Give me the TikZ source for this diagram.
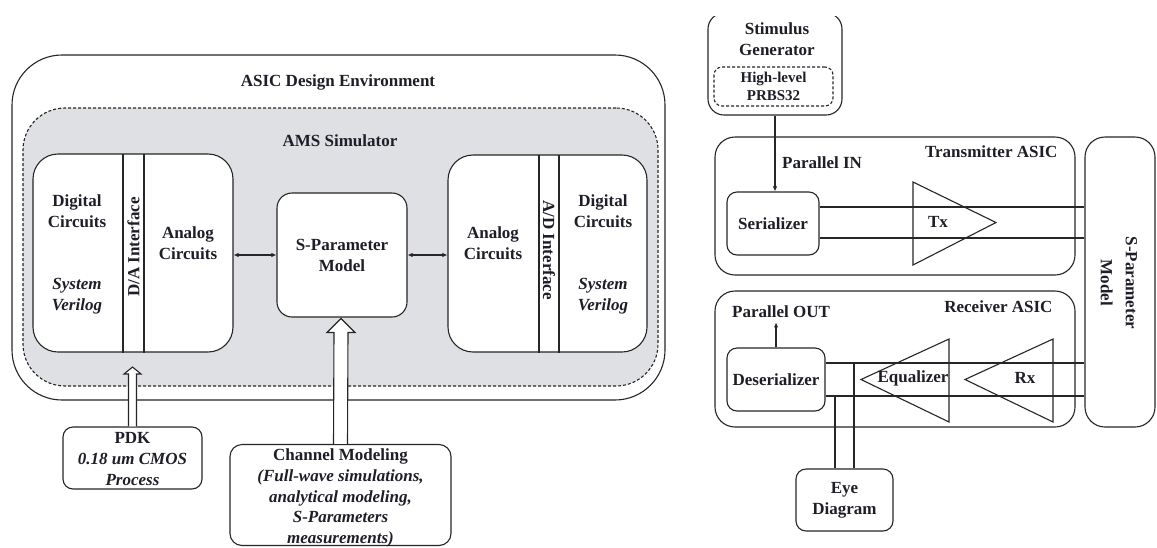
\documentclass[tikz,border=0pt]{standalone}
\usepackage{fontspec}
\setmainfont{Liberation Serif}
\usetikzlibrary{arrows.meta,calc}
\definecolor{ln}{HTML}{262626}
\definecolor{amsgray}{HTML}{DFE0E3}
\definecolor{txtc}{HTML}{1E1E28}
\newcommand\myfont{\fontsize{17}{21}\selectfont\bfseries}
\newcommand\smfont{\fontsize{15}{18}\selectfont\bfseries}
\begin{document}
\begin{tikzpicture}[x=1pt,y=-1pt,line width=1.1pt,
  bx/.style={draw=ln, fill=white, rounded corners=#1, inner sep=0pt, align=center, font=\myfont, text=txtc},
  bx/.default=10pt,
  lbl/.style={inner sep=0pt, align=center, font=\myfont, text=txtc},
  conn/.style={draw=ln, line width=1.1pt},
  tipa/.style={-{Latex[length=5pt,width=4.5pt]}},
  tipb/.style={{Latex[length=5pt,width=4.5pt]}-{Latex[length=5pt,width=4.5pt]}},
  hollow/.style={draw=ln, fill=white, line width=1.1pt, line join=miter}]
\useasboundingbox (0,0) rectangle (1157,547);
% ---------------- left panel ----------------
\node[bx=50pt, minimum width=653pt, minimum height=345pt] (asic) at (338.5,227.5) {};
\node[lbl] (asict) at (338,82) {ASIC Design Environment};
\node[bx=42pt, fill=amsgray, dash pattern=on 3pt off 2pt, minimum width=635pt, minimum height=278pt] (ams) at (340.5,247) {};
\node[lbl] (amst) at (340,141) {AMS Simulator};
% left block
\node[bx=25pt, minimum width=200pt, minimum height=198pt] (lblk) at (133,253) {};
\coordinate (la) at (123,154); \coordinate (lb) at (144,154);
\draw[conn] (la) -- (la |- lblk.south);
\draw[conn] (lb) -- (lb |- lblk.south);
\node[lbl] (ldig) at (77,211.5) {Digital\\Circuits};
\node[lbl, font=\myfont\itshape] (lsv) at (77,296) {System\\Verilog};
\node[lbl, rotate=90] (lda) at (133.5,247) {D/A Interface};
\node[lbl] (lana) at (188,243) {Analog\\Circuits};
% S-parameter model
\node[bx=15pt, minimum width=130pt, minimum height=124pt] (spm) at (342,255) {S-Parameter\\Model};
% right block
\node[bx=25pt, minimum width=199pt, minimum height=197pt] (rblk) at (547.5,253.5) {};
\coordinate (ra) at (539,155); \coordinate (rb) at (559,155);
\draw[conn] (ra) -- (ra |- rblk.south);
\draw[conn] (rb) -- (rb |- rblk.south);
\node[lbl] (rana) at (493,243) {Analog\\Circuits};
\node[lbl, rotate=-90] (rad) at (549,250) {A/D Interface};
\node[lbl] (rdig) at (603,211.5) {Digital\\Circuits};
\node[lbl, font=\myfont\itshape] (rsv) at (603,296) {System\\Verilog};
% connectors
\draw[conn, tipb] (spm.west) -- (spm.west -| lblk.east);
\draw[conn, tipb] (spm.east) -- (spm.east -| rblk.west);
% PDK and channel boxes
\node[bx=10pt, minimum width=139pt, minimum height=62pt] (pdk) at (132.5,458) {};
\node[lbl] (pdkt) at (132.5,459) {PDK\\\itshape 0.18 um CMOS\\\itshape Process};
\node[bx=12pt, minimum width=221pt, minimum height=101pt] (chan) at (340.5,495) {};
\node[lbl, font=\fontsize{17}{20.7}\selectfont\bfseries] (chant) at (340.5,498) {Channel Modeling\\\itshape (Full-wave simulations,\\\itshape analytical modeling,\\\itshape S-Parameters\\\itshape measurements)};
% hollow arrows
\coordinate (pdktip) at (132.5,367);
\draw[hollow] ($(pdk.north)+(-4,0)$) -- ($(pdktip)+(-4,7)$) -- ($(pdktip)+(-8.5,7)$) -- (pdktip) -- ($(pdktip)+(8.5,7)$) -- ($(pdktip)+(4,7)$) -- ($(pdk.north)+(4,0)$);
\coordinate (chtip) at (341,318.5);
\draw[hollow] ($(chan.north)+(-7,0)$) -- ($(chtip)+(-7,14)$) -- ($(chtip)+(-14,14)$) -- (chtip) -- ($(chtip)+(14,14)$) -- ($(chtip)+(7,14)$) -- ($(chan.north)+(7,0)$);
% ---------------- right panel ----------------
\begin{scope}
\clip (0,16) rectangle (1157,200);
\node[bx=16pt, minimum width=134pt, minimum height=102pt] (stim) at (775,64) {};
\end{scope}
\node[lbl] (stimt) at (777,39.5) {Stimulus\\Generator};
\node[bx=8pt, dash pattern=on 3pt off 2pt, minimum width=119pt, minimum height=39pt, font=\smfont] (prbs) at (773.5,86.5) {High-level\\PRBS32};
% transmitter
\node[bx=20pt, minimum width=360pt, minimum height=138pt] (txa) at (895,206) {};
\node[lbl, anchor=east] (txat) at (1058,152) {Transmitter ASIC};
\node[lbl] (pin) at (822,163) {Parallel IN};
\node[bx=10pt, minimum width=92pt, minimum height=63pt] (ser) at (773,223.5) {Serializer};
\node[bx=20pt, minimum width=70pt, minimum height=290pt] (spmr) at (1120,282) {};
\node[lbl, rotate=-90, font=\fontsize{17}{25}\selectfont\bfseries] (spmrt) at (1119,283) {S-Parameter\\Model};
\draw[conn, tipa] (stim.south) -- (stim.south |- ser.north);
\coordinate (s1) at ($(ser.east)+(0,-16.5)$);
\coordinate (s2) at ($(ser.east)+(0,14.5)$);
\draw[conn] (s1) -- (s1 -| spmr.west);
\draw[conn] (s2) -- (s2 -| spmr.west);
\draw[conn] (913,182) -- (913,265) -- (996,222.5) -- cycle;
\node[lbl] (txl) at (938,222) {Tx};
% receiver
\node[bx=20pt, minimum width=360pt, minimum height=136pt] (rxa) at (895,359) {};
\node[lbl, anchor=east] (rxat) at (1053,307) {Receiver ASIC};
\node[lbl] (pout) at (781,312) {Parallel OUT};
\node[bx=10pt, minimum width=98pt, minimum height=63pt] (des) at (776,379.5) {Deserializer};
\draw[conn, tipa] (des.north) -- ($(des.north)+(0,-25)$);
\coordinate (r1) at ($(des.east)+(0,-16.5)$);
\coordinate (r2) at ($(des.east)+(0,16.5)$);
\draw[conn] (r1) -- (r1 -| spmr.west);
\draw[conn] (r2) -- (r2 -| spmr.west);
\draw[conn] (949,339) -- (949,422) -- (861,379.5) -- cycle;
\node[lbl] (eql) at (913,378) {Equalizer};
\draw[conn] (1053,339) -- (1053,422) -- (965,379.5) -- cycle;
\node[lbl] (rxl) at (1025,378) {Rx};
% eye diagram
\node[bx=10pt, minimum width=97pt, minimum height=62pt] (eye) at (844.5,500) {Eye\\Diagram};
\coordinate (eb1) at ($(eye.north)+(-9.5,0)$);
\coordinate (eb2) at ($(eye.north)+(9.5,0)$);
\draw[conn] (eb1) -- (eb1 |- r2);
\draw[conn] (eb2) -- (eb2 |- r1);
\end{tikzpicture}
\end{document}
